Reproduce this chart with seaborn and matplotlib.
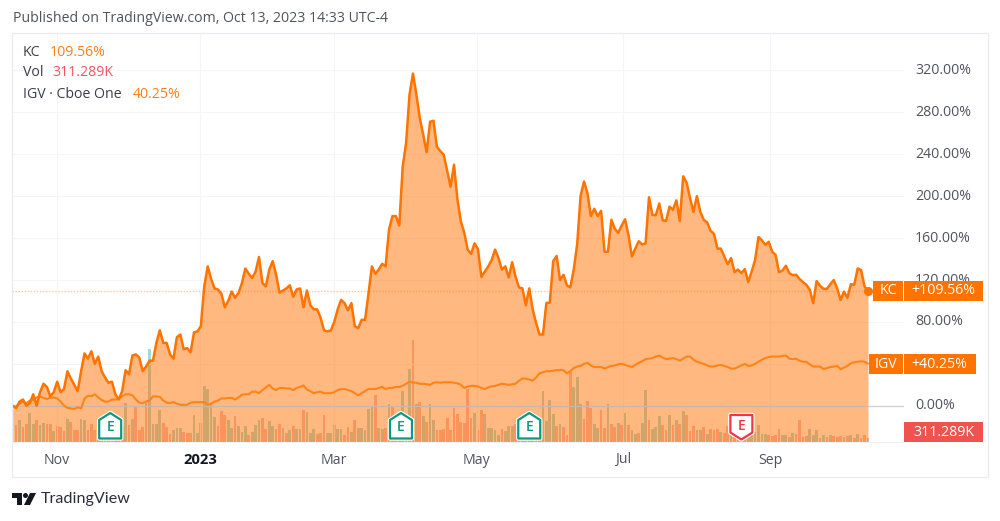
import matplotlib
matplotlib.use("Agg")
import matplotlib.pyplot as plt
from matplotlib.patches import Circle, Polygon, Rectangle
import numpy as np
import pandas as pd
import seaborn as sns

# Percent change since the first session
kc_pct = [
    0, -2, 4, 6, 0, 2.5, 11, 0, 13, 21,
    18, 9, 13, 23, 13, 16, 33, 26, 20, 14,
    33, 50, 45, 52, 40, 47, 33, 27, 22, 23,
    11, 6, 14, 34, 30, 48, 49, 46, 33, 37.5,
    43, 43, 60, 72, 60, 60, 49, 45, 65.5, 68,
    54, 55, 51, 70, 71, 76, 114, 133, 121, 112,
    111, 107, 94, 100, 109, 103, 107.5, 117, 131, 126,
    122, 128, 142, 117, 114, 130, 138, 125, 108, 110,
    112, 115, 104, 111, 112, 94, 110, 96, 92, 92,
    84, 72, 71, 72, 80, 92, 101, 98, 91, 98,
    76, 74, 82, 82, 107, 133, 126, 130, 135.5, 133,
    168, 181, 181, 172, 228, 251, 297, 317, 297, 274.5,
    258.6, 242, 271, 272, 247, 243, 239.5, 224, 209, 230,
    197, 176, 165, 149, 145, 155, 149.5, 123, 128, 133,
    139, 149, 141, 130, 133, 122.5, 137, 123, 113, 112,
    96, 112, 92, 79, 68, 68, 98, 98.6, 138, 143,
    120, 125, 115, 113, 130, 154, 200, 214, 203, 181,
    188, 181, 186, 147, 147, 177.5, 169, 165, 172, 178,
    163, 142.5, 150, 157, 154, 155, 199, 182, 182, 193,
    177, 176.5, 190, 187, 196, 176.5, 219, 213, 198, 185,
    200, 185, 177.5, 175, 167, 164, 150, 150, 142.5, 135,
    141, 127.5, 130, 126.6, 130.4, 118, 128, 139, 161, 158,
    153.6, 156.5, 147, 144, 127.5, 129, 133.6, 126.6, 124.7, 125,
    121, 118, 115.5, 110.7, 98, 119, 114.5, 111.6, 111.6, 116,
    120, 112, 101, 109, 103, 116, 115.5, 131, 129.5, 114, 109.56,
]
igv_pct = [
    0, -1, 2, 4, 2.5, 5, 5.5, 8, 9, 7.5,
    6.5, 7.5, 8, 7, 4, 0, -2, -2.5, -3, -1.5,
    -2.5, 7, 9.5, 9, 11, 8, 5.5, 4, 4, 6,
    6, 6.5, 9, 11, 11, 10, 6, 3, 2.5, 4,
    5, 9, 9, 8.5, 5, 3, 2.5, 3.5, 2, 1,
    1, 1, 3, 3.5, 3.5, 3.5, 3.5, 1, 2, 4,
    5, 7, 7, 7.5, 7.5, 6, 8, 10.5, 11, 11,
    13.5, 13.5, 12, 15, 17.5, 20, 16.5, 15, 17, 17,
    16.5, 16.5, 15, 17, 18, 19.5, 15.5, 14, 12, 13,
    13.5, 12, 12, 12, 13, 15, 16, 16, 15, 14,
    12, 10, 12, 14, 16, 16, 16, 17, 18, 16,
    17, 17, 18, 18, 19, 21, 23, 22, 22, 21,
    21, 20.5, 20, 22, 22.5, 22, 22.5, 22.5, 22.5, 22,
    21.5, 20, 17, 18.5, 19, 19, 18.5, 17, 16, 17.5,
    18.5, 19, 20, 21, 20.5, 20, 20.5, 21, 24, 26,
    26, 25, 24, 27, 31, 32, 33, 33, 33.5, 34,
    34, 34, 31, 33, 36, 37.5, 38, 40, 41, 38.5,
    37, 37, 37, 35.5, 37, 38, 38.5, 39.5, 40, 39,
    38, 37, 39, 41, 42.5, 44.5, 45, 45.5, 47, 48,
    46, 44.5, 45, 45.5, 44.5, 43, 45, 47, 47, 44,
    42, 41, 40, 38.5, 37.5, 37.5, 38.5, 39, 38, 37,
    35.5, 35.5, 37, 38.5, 40, 38, 38.5, 40, 42, 44,
    45.5, 46.5, 47, 47, 47, 47.5, 48, 45, 44.5, 45,
    43, 42, 42, 39.5, 37.5, 37.5, 37.5, 35, 36, 37,
    37.5, 38, 35, 36.5, 38, 40.7, 41.5, 42, 42.5, 42, 40.25,
]

# Daily volume in thousands; the bars begin one session after the first close
volume_k = [
    1700, 2200, 1500, 1800, 2900, 1800, 2200, 1700, 1900, 1800,
    1800, 1100, 1600, 1500, 1100, 2300, 2000, 1200, 1200, 2300,
    2200, 1200, 1800, 1200, 1400, 1200, 1500, 1000, 1400, 1300,
    1200, 1600, 3900, 1700, 2300, 3500, 1200, 1500, 3900, 9300,
    1800, 1800, 3200, 1900, 1500, 800, 1200, 1400, 1400, 1000,
    900, 900, 2700, 900, 1900, 5600, 5300, 3800, 2500, 1600,
    3100, 2700, 2200, 1400, 2600, 1600, 1000, 1600, 700, 1000,
    1700, 2200, 2400, 1300, 2100, 1600, 1300, 1800, 1400, 900,
    1200, 1600, 1300, 1300, 3200, 3000, 900, 1300, 800, 900,
    2700, 900, 900, 1700, 1300, 1300, 700, 1500, 1000, 2200,
    1400, 1400, 1200, 3300, 3500, 4700, 1400, 1300, 1400, 3800,
    3600, 2000, 1600, 5100, 2000, 7300, 10200, 3800, 4000, 2600,
    2000, 3800, 2200, 1200, 1200, 1300, 2400, 1200, 3400, 2800,
    2000, 1900, 5300, 2400, 2900, 1200, 3200, 2800, 1400, 1400,
    1200, 700, 1300, 1100, 1600, 1600, 1800, 2200, 1400, 1200,
    1400, 1200, 1200, 1400, 5100, 2100, 4200, 2800, 1600, 1800,
    1500, 700, 7000, 5500, 6500, 3800, 2300, 4100, 3400, 1800,
    1400, 3200, 1400, 3800, 1800, 1500, 1900, 1700, 2900, 1700,
    1200, 800, 900, 1900, 5200, 2200, 1300, 1500, 2600, 1700,
    1200, 2700, 1700, 2200, 1800, 3100, 2700, 1100, 1600, 1200,
    1200, 1500, 800, 1300, 1200, 1300, 1000, 900, 1600, 1000,
    900, 800, 700, 800, 700, 800, 1000, 1700, 800, 800,
    700, 600, 700, 1300, 700, 700, 500, 900, 800, 2200,
    500, 600, 1300, 700, 1200, 400, 700, 500, 700, 600,
    500, 600, 500, 600, 700, 400, 800, 400, 700, 311.289,
]
# u: close above open, d: close below open (ten sessions per row)
volume_dir = [
    "dudduuduud",
    "dudddudddu",
    "udddududud",
    "udududdddu",
    "uuuddduuud",
    "dduuduuuud",
    "dduuduuudu",
    "uudduuddud",
    "uduuduuudd",
    "duuduuddud",
    "uuuuuduudu",
    "dddudududu",
    "duuddddddd",
    "ddddudduuu",
    "uuduuudddu",
    "uuduuuuudu",
    "ddduuudddu",
    "udduddudud",
    "uuduuduuud",
    "dudududddu",
    "ududdduddu",
    "duduuuuuuu",
    "dddduududd",
    "dduuuuudud",
    "ddudududdd",
]

session_ticks = [13, 54.8, 94, 135.6, 178.3, 221.4]
month_labels = ["Nov", "2023", "Mar", "May", "Jul", "Sep"]
price_ticks = [320, 280, 240, 200, 160, 120, 80, 0]
grid_levels = [320, 280, 240, 200, 160, 120, 80, 40, 0]
earnings_sessions = [28.5, 113.5, 151, 213]
earnings_beat = [True, True, True, False]

LINE = "#FF7300"
FILL = "#FF7300"
UP = "#26A69A"
DOWN = "#EF5350"
TEXT = "#50535E"
GRID = "#F3F5FA"

sns.set_theme(style="white")
plt.rcParams["font.family"] = ["Open Sans", "DejaVu Sans"]

W, H = 1000, 521
fig = plt.figure(figsize=(W / 100, H / 100), dpi=100, facecolor="white")


def pane(left, top, right, bottom, **kw):
    return fig.add_axes(
        [left / W, 1 - bottom / H, (right - left) / W, (bottom - top) / H], **kw
    )


PANE = (12, 33, 904, 441.5)
XLIM = ((12 - 12.7) / 3.421, (904 - 12.7) / 3.421)
PX_PER_PCT = 1.048
YLIM = ((405.8 - 441.5) / PX_PER_PCT, (405.8 - 33) / PX_PER_PCT)

# Volume sits underneath the filled price area
vol_ax = pane(*PANE, zorder=1)
vol_df = pd.DataFrame(
    {
        "session": np.arange(1, len(volume_k) + 1),
        "volume": volume_k,
        "direction": list("".join(volume_dir)),
    }
)
sns.barplot(
    data=vol_df, x="session", y="volume", hue="direction",
    hue_order=["u", "d"], palette={"u": UP, "d": DOWN},
    native_scale=True, dodge=False, width=0.8, saturation=1,
    alpha=0.42, legend=False, ax=vol_ax, linewidth=0,
)
vol_ax.set_xlim(*XLIM)
vol_ax.set_ylim(0, (441.5 - 33) * 100)
vol_ax.axis("off")

# Price pane
ax = pane(*PANE, zorder=2)
ax.patch.set_alpha(0)
sessions = np.arange(len(kc_pct))
price_df = pd.DataFrame({"session": sessions, "kc": kc_pct, "igv": igv_pct})

for lvl in grid_levels:
    ax.axhline(lvl, color=GRID, lw=0.8, zorder=0)
for s in session_ticks:
    ax.axvline(s, color=GRID, lw=0.8, zorder=0)

ax.fill_between(sessions, kc_pct, YLIM[0], color=FILL, alpha=0.5, lw=0, zorder=1)
ax.axhline(0, color="#B2B5BE", lw=0.9, alpha=0.6, zorder=1.5)
ax.plot([XLIM[0], sessions[-1]], [kc_pct[-1]] * 2, color=LINE, alpha=0.4,
        lw=1, ls=(0, (1, 1.2)), zorder=1.6)
sns.lineplot(data=price_df, x="session", y="igv", color="#FF8418", lw=1.5,
             ax=ax, zorder=3, estimator=None)
sns.lineplot(data=price_df, x="session", y="kc", color=LINE, lw=1.8,
             ax=ax, zorder=4, estimator=None)
ax.plot(sessions[-1], kc_pct[-1], "o", color=LINE, ms=5.5, zorder=5)
ax.set_xlim(*XLIM)
ax.set_ylim(*YLIM)
ax.axis("off")

# Page furniture, laid out in pixel coordinates
ui = fig.add_axes([0, 0, 1, 1], zorder=3)
ui.set_xlim(0, W)
ui.set_ylim(H, 0)
ui.axis("off")
ui.patch.set_alpha(0)

ui.add_patch(Rectangle((12, 33), 976, 444, fill=False, ec="#E9EBF1", lw=0.9))
ui.plot([12, 904], [441.8, 441.8], color="#EEF0F5", lw=0.8)

FS = 10.2
ui.text(13, 18, "Published on TradingView.com, Oct 13, 2023 14:33 UTC-4",
        color=TEXT, fontsize=FS, va="center")

for label, value, y, x2, col in [
    ("KC", "109.56%", 52, 50, "#FF7F1A"),
    ("Vol", "311.289K", 72.5, 52, "#F7525F"),
    ("IGV · Cboe One", "40.25%", 94, 133, "#FF7F1A"),
]:
    ui.text(23, y, label, color="#3A3E4A", fontsize=FS, va="center")
    ui.text(x2, y, value, color=col, fontsize=FS, va="center")

for t in price_ticks:
    y = 405.8 - t * PX_PER_PCT
    ui.text(915, y, f"{t:.2f}%", color=TEXT, fontsize=FS, va="center", zorder=3)

for s, lab in zip(session_ticks, month_labels):
    px = 12.7 + 3.421 * s
    bold = lab == "2023"
    ui.text(px, 460, lab, ha="center", va="center", fontsize=FS + (0.4 if bold else 0),
            color="#131722" if bold else TEXT, fontweight="bold" if bold else "normal")


def tag(x0, x1, y0, y1, color, text):
    ui.add_patch(Rectangle((x0, y0), x1 - x0, y1 - y0, color=color, lw=0, zorder=5))
    ui.text((x0 + x1) / 2, (y0 + y1) / 2, text, color="white", fontsize=FS,
            ha="center", va="center", zorder=6)


tag(873, 903.3, 281, 301, LINE, "KC")
tag(904, 983, 281, 301, LINE, "+109.56%")
tag(869, 903.3, 354, 374, LINE, "IGV")
tag(904, 975.5, 354, 374, LINE, "+40.25%")
tag(904, 983, 422, 442, "#EF5350", "311.289K")


def earnings_badge(cx, beat):
    if beat:
        top, bottom = 413, 438.5
        shape = [(cx, top), (cx + 11, top + 7), (cx + 11, bottom), (cx - 11, bottom), (cx - 11, top + 7)]
        color, ty = "#089981", 427
    else:
        top, bottom = 415, 439.5
        shape = [(cx - 11, top), (cx + 11, top), (cx + 11, bottom - 7), (cx, bottom), (cx - 11, bottom - 7)]
        color, ty = "#F23645", 426
    ui.add_patch(Polygon(shape, closed=True, fc="white", ec="white", lw=3.2, joinstyle="round"))
    ui.add_patch(Polygon(shape, closed=True, fc="white", ec=color, lw=1.6, joinstyle="round"))
    ui.text(cx, ty, "E", color=color, fontsize=10, ha="center", va="center",
            fontweight="semibold")


for s, beat in zip(earnings_sessions, earnings_beat):
    earnings_badge(12.7 + 3.421 * s, beat)

# Wordmark
ink = "#131722"
ui.add_patch(Polygon([(12, 493), (22, 493), (22, 505), (17, 505), (17, 498), (12, 498)], fc=ink, lw=0))
ui.add_patch(Circle((25.5, 495.5), 2.5, fc=ink, lw=0))
ui.add_patch(Polygon([(30, 493), (36, 493), (30, 505), (24, 505)], fc=ink, lw=0))
ui.text(41, 499.5, "TradingView", color="#2A2E39", fontsize=11.6, va="center", family="Lato")

fig.savefig("out.png", dpi=100)
